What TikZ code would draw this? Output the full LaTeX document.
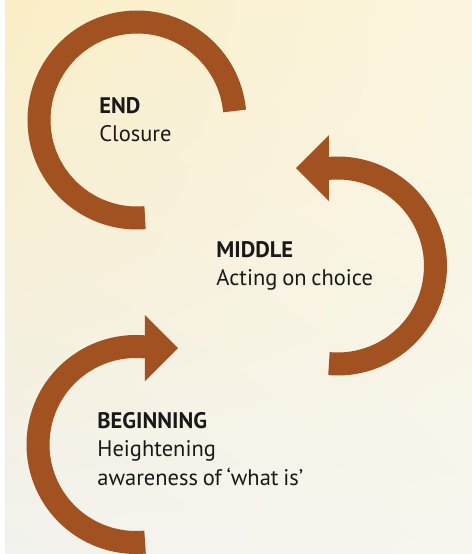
\documentclass[tikz,border=0pt]{standalone}
\usepackage{fontspec}
\setmainfont{PT Sans}[WordSpace=0.8]
\usepackage{tikz}
\usetikzlibrary{positioning, calc, shadings}

\definecolor{rust}{RGB}{161,82,32}
\definecolor{paperA}{RGB}{250,238,198}
\definecolor{paperB}{RGB}{251,245,222}
\definecolor{paperC}{RGB}{242,242,238}
\definecolor{paperD}{RGB}{247,245,238}

\begin{document}
\begin{tikzpicture}[x=0.5pt, y=0.5pt]
        % Define styles
        \tikzstyle{band} = [draw=rust, line width=11.5pt]
        \tikzstyle{head} = [fill=rust]
        \tikzstyle{caption} = [anchor=north west, inner sep=0pt, align=left, text=black!90, font=\fontsize{11.25}{14.25}\selectfont]

        % Paper
        \useasboundingbox (0,0) rectangle (472,554);
        \fill[white] (0,0) rectangle (472,554);
        \shade[upper left=paperA, upper right=paperB, lower left=paperC, lower right=paperD] (5,0) rectangle (472,554);

        % Ring centres and arrow tips
        \coordinate (end_centre) at (137,434);
        \coordinate (middle_centre) at (337.5,288);
        \coordinate (beginning_centre) at (136,109.5);
        \coordinate (middle_tip) at (296,386);
        \coordinate (beginning_tip) at (178,206);

        % Draw the rings
        \draw[band] (end_centre) ++(5.3:98) arc[start angle=5.3, end angle=274.7, radius=98];
        \draw[band] (middle_centre) ++(-95:98) arc[start angle=-95, end angle=97, radius=98];
        \draw[band] (beginning_centre) ++(83:98) arc[start angle=83, end angle=275.3, radius=98];

        % Arrow heads
        \fill[head] (middle_tip) -- ++(33,33) -- ++(0,-66) -- cycle;
        \fill[head] (beginning_tip) -- ++(-33,33) -- ++(0,-66) -- cycle;

        % Place the labels
        \node[caption] (end_label) at (99,457) {\textbf{END}\\Closure};
        \node[caption] (middle_label) at (216,313) {\textbf{MIDDLE}\\Acting on choice};
        \node[caption] (beginning_label) at (97,142) {\textbf{BEGINNING}\\Heightening\\awareness of ‘what is’};
\end{tikzpicture}
\end{document}
